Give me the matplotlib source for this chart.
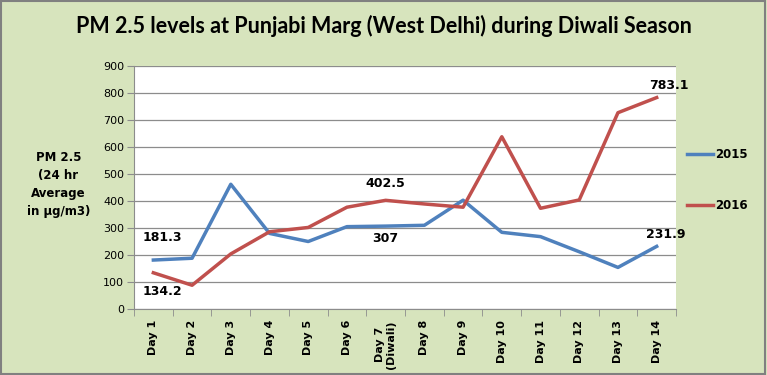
import matplotlib
matplotlib.use('Agg')
import matplotlib.pyplot as plt
import numpy as np

days = ['Day 1', 'Day 2', 'Day 3', 'Day 4', 'Day 5', 'Day 6', 'Day 7\n(Diwali)',
        'Day 8', 'Day 9', 'Day 10', 'Day 11', 'Day 12', 'Day 13', 'Day 14']
pm_2015 = [181.3, 188, 462, 280, 250, 305, 307, 310, 403, 284, 268, 212, 154, 231.9]
pm_2016 = [134.2, 88, 204, 286, 302, 377, 402.5, 389, 377, 638, 373, 404, 727, 783.1]
yticks = [0, 100, 200, 300, 400, 500, 600, 700, 800, 900]

blue = '#4F81BD'
red = '#C0504D'
bg = '#D7E4BD'

fig = plt.figure(figsize=(7.67, 3.75), dpi=100, facecolor=bg)
fig.patches.append(plt.Rectangle((0.001, 0.002), 0.997, 0.995, transform=fig.transFigure,
                                 fill=False, edgecolor='#808080', linewidth=1.5))
ax = fig.add_axes([0.1747, 0.176, 0.7067, 0.648])
ax.set_facecolor('white')

x = np.arange(len(days))
ax.plot(x, pm_2015, color=blue, linewidth=2.5, label='2015', solid_joinstyle='round')
ax.plot(x, pm_2016, color=red, linewidth=2.5, label='2016', solid_joinstyle='round')

ax.set_xlim(-0.5, len(days) - 0.5)
ax.set_ylim(0, 900)
ax.set_yticks(yticks)
ax.yaxis.grid(True, color='#8c8c8c', linewidth=0.9)
ax.set_axisbelow(True)

ax.set_xticks(x)
ax.set_xticklabels(days, rotation=90, fontweight='bold', fontsize=8, va='top')
ax.set_xticks(np.arange(-0.5, len(days)), minor=True)
ax.tick_params(axis='x', which='major', length=0, pad=8)
ax.tick_params(axis='x', which='minor', length=5, color='#8c8c8c', direction='out')
ax.tick_params(axis='y', length=5, color='#8c8c8c', labelsize=8, pad=2)

for s in ['top', 'right']:
    ax.spines[s].set_visible(False)
for s in ['left', 'bottom']:
    ax.spines[s].set_color('#8c8c8c')

lbl = dict(textcoords='offset pixels', ha='center', va='center', fontweight='bold', fontsize=9)
ax.annotate('181.3', (0, pm_2015[0]), xytext=(9, 23), **lbl)
ax.annotate('134.2', (0, pm_2016[0]), xytext=(9, -19), **lbl)
ax.annotate('402.5', (6, pm_2016[6]), xytext=(0, 17), **lbl)
ax.annotate('307', (6, pm_2015[6]), xytext=(0, -12), **lbl)
ax.annotate('783.1', (13, pm_2016[13]), xytext=(12, 12), **lbl)
ax.annotate('231.9', (13, pm_2015[13]), xytext=(9, 12), **lbl)

leg = fig.legend(loc='center left', bbox_to_anchor=(0.882, 0.52), frameon=False,
                 prop={'weight': 'bold', 'size': 8.5}, handlelength=2.2,
                 handletextpad=0.2, labelspacing=3.2)

fig.text(0.076, 0.507, 'PM 2.5\n(24 hr\nAverage\nin µg/m3)', ha='center', va='center',
         fontweight='bold', fontsize=8.5, linespacing=1.5)

fig.text(0.5, 0.931, 'PM 2.5 levels at Punjabi Marg (West Delhi) during Diwali Season',
         ha='center', va='center', fontsize=15.5, fontweight='bold',
         family=['Lato', 'DejaVu Sans'])

fig.savefig('out.png', dpi=100, facecolor=bg)
